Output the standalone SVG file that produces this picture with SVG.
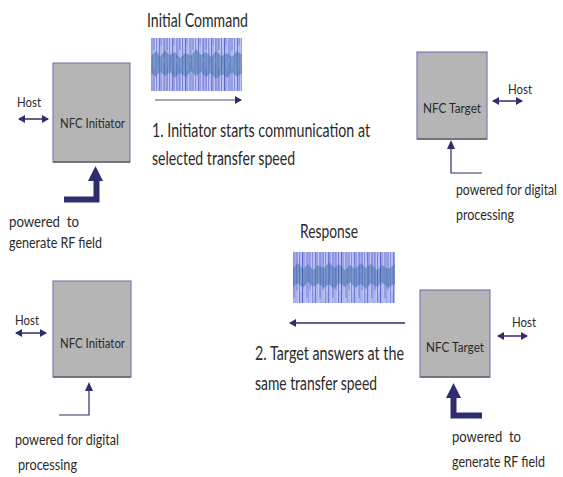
<svg xmlns="http://www.w3.org/2000/svg" width="563" height="477" viewBox="0 0 563 477">
<style>
text{font-family:Lato,"Open Sans","Liberation Sans",sans-serif;fill:#2a2a2a;}
.box{fill:#b5b5b5;stroke:#7c7cb4;stroke-width:1.2;}
.boxb{stroke:#666;stroke-width:1.5;}
.lab{font-size:12.5px;}
.big{font-size:18.5px;}
.mid{font-size:15.5px;}
.nv{stroke:#2e2e6e;fill:none;}
.thick{stroke:#2e2e6e;stroke-width:6;fill:none;}
</style>
<defs>
<marker id="ah" markerWidth="8" markerHeight="8" refX="6" refY="4" orient="auto-start-reverse" markerUnits="userSpaceOnUse">
<path d="M0,0 L7,4 L0,8 Z" fill="#2e2e6e"/>
</marker>
<pattern id="wv" width="13" height="60" patternUnits="userSpaceOnUse">
<rect width="13" height="60" fill="#a9b3ec"/>
<line x1="0.5" y1="0" x2="0.5" y2="60" stroke="#6f7fd6" stroke-width="1"/>
<line x1="2" y1="5" x2="2" y2="52" stroke="#c4cdf5" stroke-width="1"/>
<line x1="3.5" y1="0" x2="3.5" y2="60" stroke="#5a66c8" stroke-width="1"/>
<line x1="5" y1="10" x2="5" y2="45" stroke="#8a7ad8" stroke-width="1"/>
<line x1="6.5" y1="0" x2="6.5" y2="60" stroke="#b8c6f2" stroke-width="1"/>
<line x1="8" y1="3" x2="8" y2="58" stroke="#6a6ed0" stroke-width="1"/>
<line x1="9.5" y1="0" x2="9.5" y2="60" stroke="#9aa6ea" stroke-width="1"/>
<line x1="11" y1="8" x2="11" y2="50" stroke="#7a68cc" stroke-width="1"/>
<line x1="12.5" y1="0" x2="12.5" y2="60" stroke="#c0c8f4" stroke-width="1"/>
</pattern>
<pattern id="st" width="3" height="10" patternUnits="userSpaceOnUse">
<line x1="1" y1="0" x2="1" y2="10" stroke="#c9d2f7" stroke-width="0.8" opacity="0.45"/>
</pattern>
</defs>

<g id="waveform1">
<rect x="151" y="38" width="91" height="53" fill="url(#wv)"/>
<path d="M151,56 L156,51 L160,57 L165,50 L170,55 L175,52 L180,58 L186,53 L191,56 L196,49 L201,55 L206,52 L211,57 L216,51 L222,56 L227,53 L232,57 L237,51 L242,55 L242,73 L237,77 L232,72 L227,78 L222,74 L216,79 L211,73 L206,77 L201,72 L196,76 L191,71 L186,77 L180,73 L175,78 L170,72 L165,76 L160,71 L156,77 L151,73 Z" fill="#3d6aa8" opacity="0.6"/>
<rect x="151" y="38" width="91" height="53" fill="url(#st)"/>
</g>
<g id="waveform2">
<rect x="293" y="252" width="102" height="51" fill="url(#wv)"/>
<path d="M293,268 L298,263 L303,269 L308,264 L313,270 L318,265 L324,268 L329,262 L334,268 L339,264 L345,270 L350,265 L355,269 L361,263 L366,268 L371,264 L377,270 L382,265 L388,269 L395,264 L395,283 L388,288 L382,282 L377,287 L371,283 L366,289 L361,284 L355,288 L350,282 L345,287 L339,283 L334,289 L329,284 L324,288 L318,283 L313,287 L308,282 L303,288 L298,283 L293,287 Z" fill="#3d6aa8" opacity="0.6"/>
<rect x="293" y="252" width="102" height="51" fill="url(#st)"/>
</g>

<g id="initiator1">
<rect class="box" x="53" y="63" width="77" height="99"/>
<line class="boxb" x1="53" y1="162" x2="130" y2="162"/>
<text class="lab" x="60" y="128" textLength="65" lengthAdjust="spacingAndGlyphs">NFC Initiator</text>
</g>
<g id="target1">
<rect class="box" x="417" y="52" width="70" height="87"/>
<line class="boxb" x1="417" y1="139" x2="487" y2="139"/>
<text class="lab" x="423" y="113" textLength="58" lengthAdjust="spacingAndGlyphs">NFC Target</text>
</g>
<g id="initiator2">
<rect class="box" x="53" y="281" width="78" height="96"/>
<line class="boxb" x1="53" y1="377" x2="131" y2="377"/>
<text class="lab" x="60" y="348" textLength="65" lengthAdjust="spacingAndGlyphs">NFC Initiator</text>
</g>
<g id="target2">
<rect class="box" x="420" y="290" width="70" height="87"/>
<line class="boxb" x1="420" y1="377" x2="490" y2="377"/>
<text class="lab" x="426" y="352" textLength="58" lengthAdjust="spacingAndGlyphs">NFC Target</text>
</g>

<g id="connectors">
<line x1="155" y1="100" x2="241" y2="100" stroke="#8a8a9a" stroke-width="1.5" marker-end="url(#ah)"/>
<line x1="405" y1="323" x2="290" y2="323" stroke="#2e2e6e" stroke-width="1.5" marker-end="url(#ah)"/>
<line class="nv" x1="19" y1="119" x2="48" y2="119" stroke-width="1.5" marker-start="url(#ah)" marker-end="url(#ah)"/>
<line class="nv" x1="16" y1="333" x2="46" y2="333" stroke-width="1.5" marker-start="url(#ah)" marker-end="url(#ah)"/>
<line class="nv" x1="493" y1="101" x2="522" y2="101" stroke-width="1.5" marker-start="url(#ah)" marker-end="url(#ah)"/>
<line class="nv" x1="498" y1="336" x2="527" y2="336" stroke-width="1.5" marker-start="url(#ah)" marker-end="url(#ah)"/>
<path d="M64,199.5 H96.5 V180" class="thick"/>
<path d="M88,181 L95.5,166 L103,181 Z" fill="#2e2e6e"/>
<path d="M482,415.5 H453.5 V397" class="thick"/>
<path d="M446,398 L453.5,383 L461,398 Z" fill="#2e2e6e"/>
<path d="M482,173 H451 V148" stroke="#2e2e6e" stroke-width="1.2" fill="none"/>
<path d="M447,149 L451,140 L455,149 Z" fill="#2e2e6e"/>
<path d="M59,415 H89 V390" stroke="#2e2e6e" stroke-width="1.2" fill="none"/>
<path d="M85,391 L89,382 L93,391 Z" fill="#2e2e6e"/>
</g>

<g id="labels">
<text x="147" y="27" font-size="19" textLength="101" lengthAdjust="spacingAndGlyphs">Initial Command</text>
<text class="big" x="152" y="137" textLength="218" lengthAdjust="spacingAndGlyphs">1. Initiator starts communication at</text>
<text class="big" x="152" y="165" textLength="143" lengthAdjust="spacingAndGlyphs">selected transfer speed</text>
<text class="lab" x="17" y="107" textLength="24" lengthAdjust="spacingAndGlyphs">Host</text>
<text class="lab" x="15" y="325" textLength="24" lengthAdjust="spacingAndGlyphs">Host</text>
<text class="lab" x="508" y="94" textLength="24" lengthAdjust="spacingAndGlyphs">Host</text>
<text class="lab" x="512" y="327" textLength="24" lengthAdjust="spacingAndGlyphs">Host</text>
<text class="mid" x="9" y="227" textLength="70" lengthAdjust="spacingAndGlyphs" xml:space="preserve">powered  to</text>
<text class="mid" x="9" y="248" textLength="93" lengthAdjust="spacingAndGlyphs">generate RF field</text>
<text class="mid" x="456" y="195" textLength="101" lengthAdjust="spacingAndGlyphs">powered for digital</text>
<text class="mid" x="456" y="220" textLength="58" lengthAdjust="spacingAndGlyphs">processing</text>
<text class="big" x="300" y="238" textLength="58" lengthAdjust="spacingAndGlyphs">Response</text>
<text class="big" x="255" y="360" textLength="149" lengthAdjust="spacingAndGlyphs">2. Target answers at the</text>
<text class="big" x="255" y="390" textLength="122" lengthAdjust="spacingAndGlyphs">same transfer speed</text>
<text class="mid" x="452" y="442" textLength="69" lengthAdjust="spacingAndGlyphs" xml:space="preserve">powered  to</text>
<text class="mid" x="452" y="467" textLength="93" lengthAdjust="spacingAndGlyphs">generate RF field</text>
<text class="mid" x="15" y="445" textLength="104" lengthAdjust="spacingAndGlyphs">powered for digital</text>
<text class="mid" x="18" y="470" textLength="59" lengthAdjust="spacingAndGlyphs">processing</text>
</g>
</svg>
